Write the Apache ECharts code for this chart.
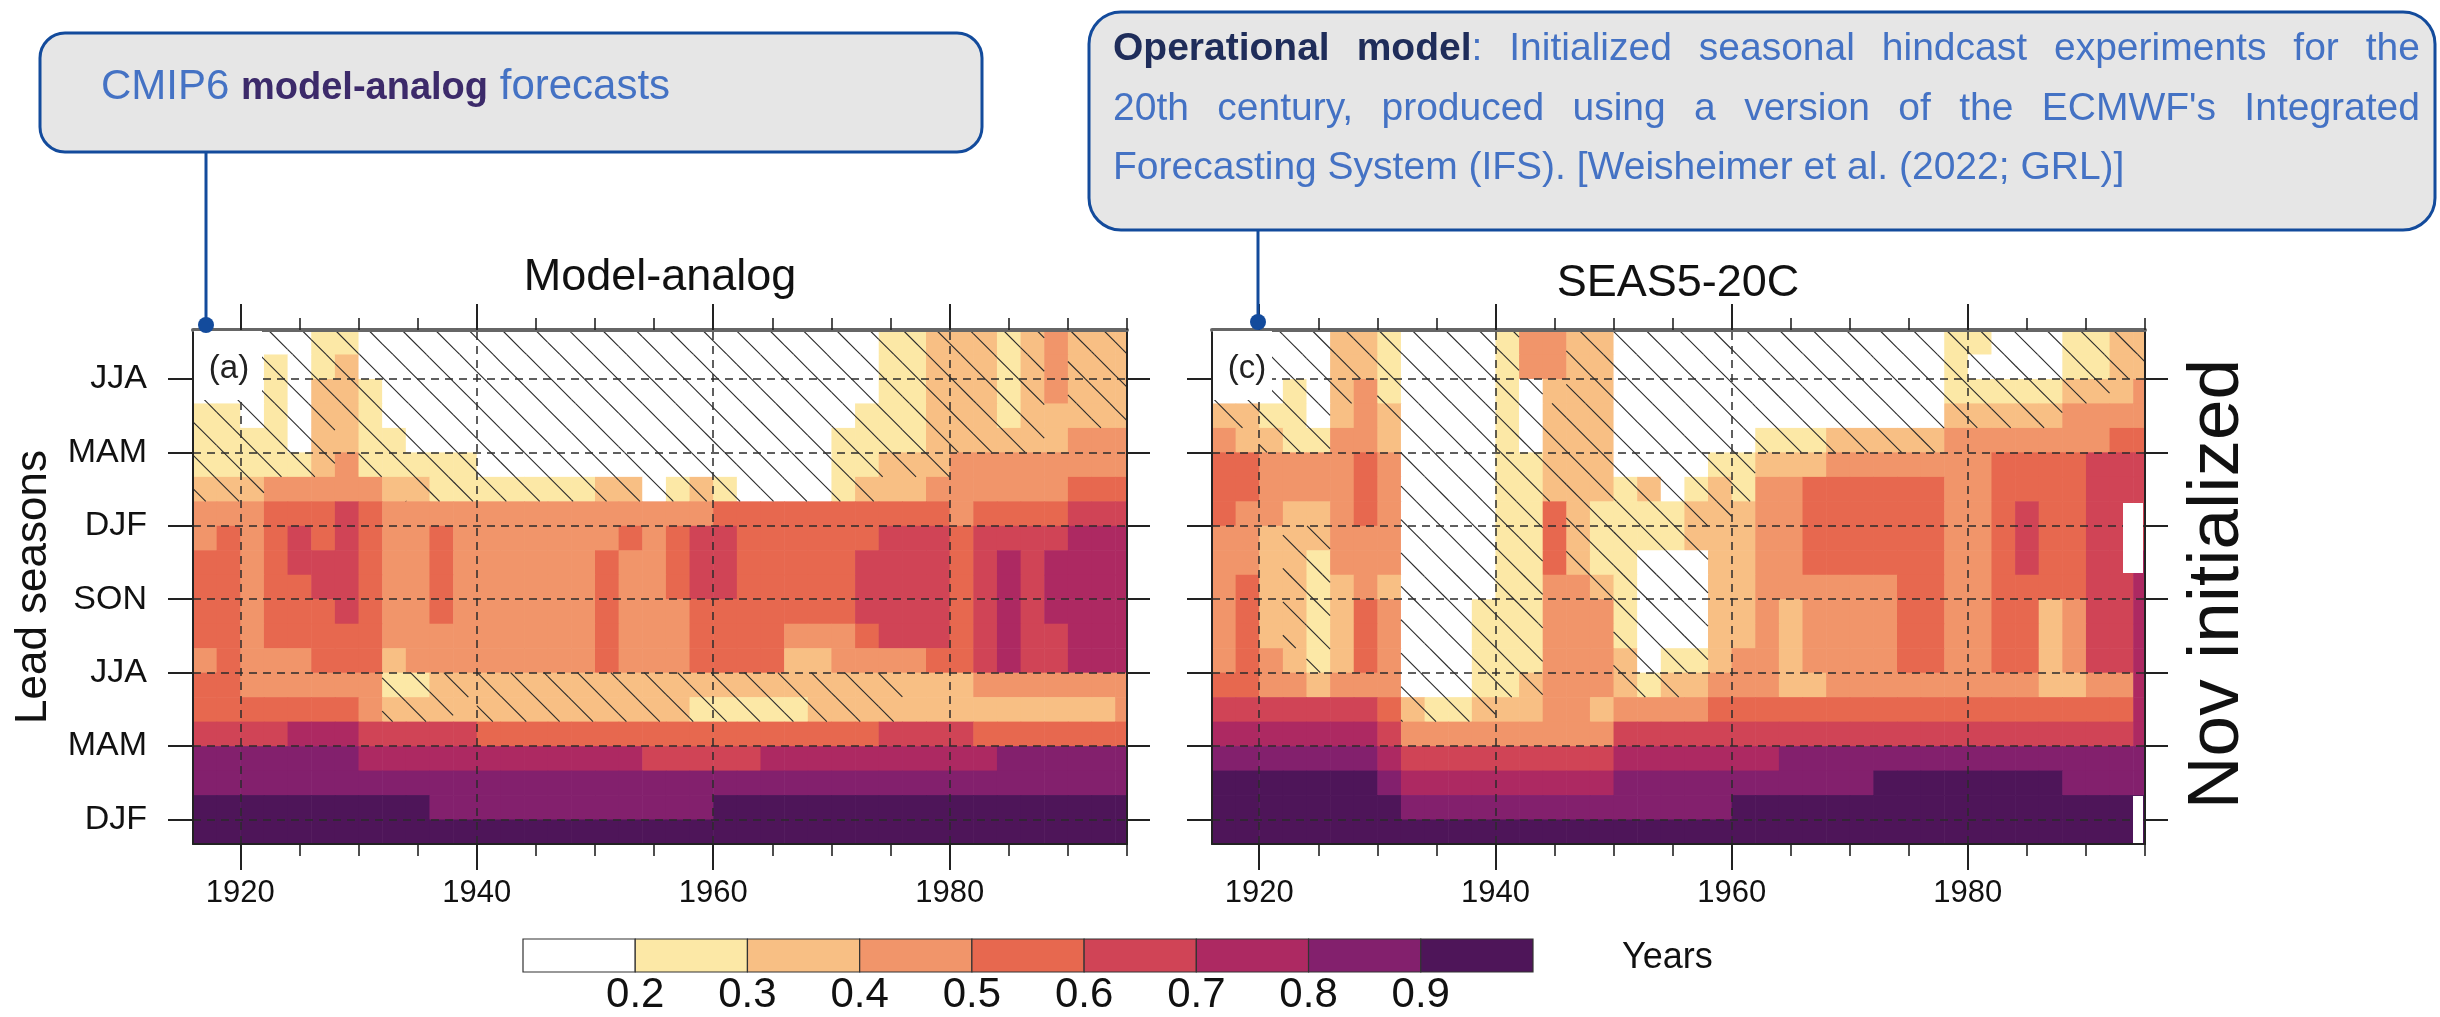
<!DOCTYPE html>
<html>
<head>
<meta charset="utf-8">
<script src="https://cdn.jsdelivr.net/npm/echarts@6/dist/echarts.min.js"></script>
<style>
html,body{margin:0;padding:0;background:#ffffff;}
#chart{width:2440px;height:1017px;}
</style>
</head>
<body>
<div id="chart"></div>
<script>
const FONT = '"Liberation Sans", Arial, Helvetica, sans-serif';

// ---------------- data ----------------
const yearStart = 1916, yearEnd = 1995, yearStep = 2;
const majorYears = [1920, 1940, 1960, 1980];
const minorYears = [1920, 1925, 1930, 1935, 1940, 1945, 1950, 1955, 1960, 1965, 1970, 1975, 1980, 1985, 1990, 1995];
const seasonMonths = [0, 3, 6, 9, 12, 15, 18];
const seasonLabels = ['DJF', 'MAM', 'JJA', 'SON', 'DJF', 'MAM', 'JJA'];
const levelBreaks = [0.2, 0.3, 0.4, 0.5, 0.6, 0.7, 0.8, 0.9];
const levelColors = ['#ffffff', '#fce8a6', '#f8bf84', '#f1956a', '#e7684f', '#d04456', '#ad2962', '#83206d', '#4e1559'];
const colorbarEnds = [0.1, 1.0];
const hatchBelow = 0.35;
const panelTitles = ['Model-analog', 'SEAS5-20C'];
const panelLetters = ['(a)', '(c)'];

// correlation skill, one row per lead month (top row first), one value per 2-year column from 1916
const analogRows = [
 [.15,.15,.15,.15,.15,.25,.25,.15,.15,.15, .15,.15,.15,.15,.15,.15,.15,.15,.15,.15, .15,.15,.15,.15,.15,.15,.15,.15,.18,.25, .25,.33,.33,.33,.28,.33,.45,.33,.33,.33],
 [.15,.15,.15,.25,.15,.25,.30,.15,.15,.15, .15,.15,.15,.15,.15,.15,.15,.15,.15,.15, .15,.15,.15,.15,.15,.15,.15,.15,.18,.25, .25,.33,.33,.33,.28,.33,.45,.33,.33,.33],
 [.15,.15,.15,.25,.15,.32,.33,.25,.18,.15, .15,.15,.15,.15,.15,.15,.15,.15,.15,.15, .15,.15,.15,.15,.15,.15,.15,.15,.18,.25, .25,.33,.33,.33,.28,.33,.45,.33,.33,.33],
 [.25,.25,.18,.25,.15,.32,.33,.25,.18,.15, .15,.15,.15,.15,.15,.15,.15,.15,.15,.15, .15,.15,.15,.15,.15,.15,.15,.15,.25,.25, .25,.33,.33,.33,.28,.33,.38,.33,.33,.33],
 [.27,.27,.27,.25,.15,.30,.38,.25,.22,.15, .15,.15,.15,.15,.15,.15,.15,.15,.15,.15, .15,.15,.15,.15,.15,.15,.15,.25,.25,.27, .27,.33,.33,.33,.33,.33,.38,.45,.45,.45],
 [.26,.26,.26,.27,.25,.32,.42,.27,.25,.21, .25,.25,.15,.15,.15,.15,.15,.15,.15,.15, .15,.15,.15,.15,.15,.15,.15,.25,.25,.30, .30,.33,.42,.45,.45,.45,.45,.48,.48,.48],
 [.33,.33,.33,.43,.47,.47,.47,.47,.36,.32, .27,.27,.27,.27,.27,.27,.27,.33,.33,.18, .22,.30,.25,.18,.18,.18,.18,.25,.33,.38, .38,.45,.45,.45,.45,.45,.45,.55,.55,.55],
 [.43,.43,.43,.55,.55,.55,.60,.55,.45,.43, .43,.42,.42,.42,.42,.42,.42,.42,.42,.45, .45,.48,.50,.50,.53,.53,.53,.53,.52,.58, .58,.55,.45,.55,.55,.55,.55,.60,.60,.60],
 [.47,.53,.45,.55,.60,.58,.63,.55,.45,.45, .50,.45,.45,.45,.45,.45,.45,.47,.52,.45, .50,.60,.62,.55,.55,.55,.55,.55,.55,.63, .63,.60,.55,.60,.65,.63,.60,.73,.73,.73],
 [.53,.55,.45,.55,.60,.62,.65,.56,.45,.45, .52,.45,.45,.45,.45,.45,.45,.55,.47,.45, .52,.63,.62,.55,.55,.55,.55,.55,.65,.65, .65,.60,.55,.62,.78,.65,.72,.76,.76,.76],
 [.53,.55,.45,.55,.56,.63,.65,.56,.45,.45, .52,.45,.45,.45,.45,.45,.45,.53,.45,.45, .50,.60,.62,.55,.55,.55,.55,.55,.65,.65, .65,.62,.57,.63,.78,.65,.70,.76,.76,.76],
 [.53,.55,.45,.52,.55,.57,.63,.56,.45,.45, .50,.45,.45,.45,.45,.45,.45,.55,.45,.45, .45,.55,.55,.55,.55,.50,.50,.55,.63,.63, .63,.63,.55,.63,.78,.65,.70,.75,.75,.75],
 [.50,.53,.45,.50,.55,.58,.58,.55,.45,.45, .45,.45,.45,.45,.45,.45,.45,.53,.45,.45, .45,.55,.55,.55,.55,.42,.42,.45,.55,.63, .63,.62,.55,.63,.78,.65,.68,.75,.75,.75],
 [.45,.52,.45,.45,.47,.52,.56,.52,.38,.41, .41,.45,.45,.45,.45,.45,.45,.52,.45,.45, .45,.55,.55,.55,.55,.38,.38,.45,.45,.47, .47,.55,.55,.62,.75,.65,.68,.75,.75,.75],
 [.52,.52,.45,.45,.45,.45,.45,.45,.27,.27, .32,.33,.33,.33,.33,.33,.33,.33,.33,.33, .33,.32,.32,.32,.32,.32,.32,.32,.32,.32, .38,.38,.38,.45,.45,.45,.45,.45,.45,.45],
 [.55,.55,.55,.55,.55,.55,.55,.45,.32,.32, .32,.37,.33,.33,.33,.33,.33,.33,.33,.33, .33,.25,.25,.25,.25,.25,.32,.32,.32,.32, .37,.37,.37,.37,.37,.37,.37,.37,.37,.45],
 [.65,.65,.65,.65,.72,.72,.72,.62,.62,.62, .62,.62,.55,.55,.55,.55,.55,.55,.55,.55, .55,.55,.55,.55,.55,.55,.55,.55,.55,.62, .62,.62,.62,.57,.57,.57,.57,.57,.57,.57],
 [.82,.82,.82,.82,.82,.82,.82,.75,.75,.75, .75,.75,.75,.75,.75,.75,.75,.75,.75,.68, .68,.68,.68,.68,.75,.75,.75,.75,.75,.75, .75,.75,.75,.75,.82,.82,.82,.82,.82,.82],
 [.85,.85,.85,.85,.85,.85,.85,.85,.85,.85, .85,.85,.85,.85,.85,.85,.85,.85,.85,.85, .85,.85,.85,.85,.85,.85,.85,.85,.85,.85, .85,.85,.85,.85,.85,.85,.85,.85,.85,.85],
 [.95,.95,.95,.95,.95,.95,.95,.95,.95,.95, .88,.88,.88,.88,.88,.88,.88,.88,.88,.88, .88,.88,.95,.95,.95,.95,.95,.95,.95,.95, .95,.95,.95,.95,.95,.95,.95,.95,.95,.95],
 [.95,.95,.95,.95,.95,.95,.95,.95,.95,.95, .95,.95,.95,.95,.95,.95,.95,.95,.95,.95, .95,.95,.95,.95,.95,.95,.95,.95,.95,.95, .95,.95,.95,.95,.95,.95,.95,.95,.95,.95]
];

const seas5Rows = [
 [.15,.15,.15,.15,.15,.32,.33,.22,.15,.15, .15,.15,.25,.40,.42,.33,.33,.15,.15,.15, .15,.15,.15,.15,.15,.15,.15,.15,.15,.15, .15,.25,.25,.15,.15,.15,.25,.25,.33,.33],
 [.15,.15,.15,.18,.15,.33,.33,.25,.15,.15, .15,.15,.25,.42,.45,.33,.33,.15,.15,.15, .15,.15,.15,.15,.15,.15,.15,.15,.15,.15, .15,.22,.18,.15,.15,.15,.25,.25,.33,.33],
 [.15,.15,.15,.25,.15,.33,.42,.28,.18,.15, .15,.15,.22,.18,.38,.33,.33,.15,.15,.15, .15,.15,.15,.15,.15,.15,.15,.15,.15,.15, .15,.25,.25,.25,.25,.25,.33,.33,.37,.42],
 [.33,.33,.28,.25,.15,.38,.45,.33,.18,.15, .15,.15,.20,.15,.33,.33,.33,.15,.15,.15, .15,.15,.15,.15,.15,.15,.18,.18,.18,.18, .18,.33,.33,.33,.33,.33,.40,.40,.45,.47],
 [.42,.38,.33,.28,.22,.42,.47,.37,.18,.15, .15,.15,.22,.18,.33,.33,.33,.18,.15,.15, .15,.18,.18,.25,.25,.25,.30,.30,.30,.30, .30,.42,.45,.45,.45,.45,.47,.47,.55,.55],
 [.55,.52,.45,.43,.40,.45,.55,.40,.18,.15, .15,.15,.25,.25,.33,.33,.33,.18,.15,.15, .18,.25,.25,.38,.38,.38,.45,.45,.45,.45, .45,.45,.45,.55,.55,.55,.55,.63,.65,.65],
 [.55,.53,.47,.45,.42,.47,.58,.45,.18,.15, .15,.15,.25,.25,.33,.33,.33,.22,.30,.18, .25,.30,.27,.45,.45,.52,.55,.55,.55,.55, .55,.47,.45,.55,.55,.55,.55,.65,.65,.65],
 [.50,.47,.42,.36,.38,.47,.55,.45,.18,.15, .15,.15,.25,.25,.50,.33,.25,.25,.25,.22, .33,.30,.38,.45,.45,.52,.55,.55,.55,.55, .55,.47,.45,.55,.63,.55,.55,.65,.65,.65],
 [.45,.45,.37,.33,.33,.45,.47,.43,.18,.15, .15,.15,.25,.27,.55,.30,.25,.25,.20,.20, .30,.37,.38,.45,.45,.52,.55,.55,.55,.55, .55,.47,.45,.55,.63,.55,.55,.65,.65,.65],
 [.45,.40,.36,.33,.27,.43,.45,.40,.15,.15, .15,.15,.22,.27,.52,.30,.25,.28,.15,.15, .17,.37,.38,.45,.45,.52,.55,.55,.55,.55, .55,.47,.45,.55,.63,.55,.55,.65,.65,.75],
 [.45,.55,.38,.33,.25,.37,.48,.37,.15,.15, .15,.18,.22,.27,.45,.42,.33,.28,.15,.15, .17,.37,.38,.45,.42,.45,.45,.45,.45,.55, .55,.47,.45,.55,.55,.55,.55,.65,.65,.75],
 [.45,.56,.38,.33,.25,.37,.55,.45,.15,.15, .15,.25,.22,.27,.45,.45,.40,.28,.15,.15, .17,.37,.38,.45,.38,.40,.45,.45,.45,.55, .55,.47,.45,.55,.55,.38,.45,.65,.65,.75],
 [.45,.55,.38,.33,.25,.37,.55,.45,.15,.15, .15,.25,.22,.27,.45,.45,.40,.28,.15,.15, .17,.37,.38,.45,.38,.40,.45,.45,.45,.55, .55,.47,.45,.55,.55,.38,.45,.65,.65,.75],
 [.45,.52,.40,.35,.28,.37,.55,.45,.15,.15, .15,.25,.25,.27,.45,.45,.40,.30,.18,.20, .25,.37,.40,.45,.38,.40,.45,.45,.45,.55, .55,.47,.45,.55,.55,.38,.45,.60,.65,.75],
 [.50,.50,.47,.45,.38,.45,.47,.45,.15,.18, .18,.27,.27,.33,.45,.45,.40,.33,.27,.30, .37,.45,.45,.45,.38,.38,.45,.45,.45,.45, .45,.45,.45,.45,.45,.38,.38,.45,.45,.72],
 [.63,.63,.63,.63,.63,.63,.63,.50,.30,.27, .27,.33,.37,.37,.42,.40,.38,.45,.45,.45, .45,.55,.55,.55,.52,.52,.52,.52,.52,.52, .52,.52,.52,.52,.52,.52,.52,.52,.52,.72],
 [.75,.75,.75,.75,.75,.75,.75,.62,.45,.45, .45,.45,.47,.47,.47,.47,.47,.60,.60,.60, .60,.65,.65,.65,.65,.65,.65,.65,.65,.65, .65,.65,.65,.65,.65,.65,.65,.65,.65,.72],
 [.85,.85,.85,.88,.85,.85,.85,.75,.62,.62, .62,.62,.62,.62,.62,.62,.62,.73,.73,.73, .73,.75,.75,.75,.80,.80,.80,.80,.82,.82, .82,.82,.82,.82,.82,.82,.80,.80,.80,.80],
 [.92,.92,.92,.92,.92,.92,.92,.88,.75,.75, .75,.75,.75,.75,.75,.75,.75,.83,.83,.83, .83,.85,.85,.85,.85,.85,.85,.85,.90,.90, .90,.90,.90,.90,.90,.90,.87,.87,.87,.87],
 [.95,.95,.95,.95,.95,.95,.95,.95,.87,.87, .87,.87,.87,.87,.87,.87,.87,.87,.87,.87, .87,.87,.95,.95,.95,.95,.95,.95,.95,.95, .95,.95,.95,.95,.95,.95,.95,.95,.95,.95],
 [.95,.95,.95,.95,.95,.95,.95,.95,.95,.95, .95,.95,.95,.95,.95,.95,.95,.95,.95,.95, .95,.95,.95,.95,.95,.95,.95,.95,.95,.95, .95,.95,.95,.95,.95,.95,.95,.95,.95,.95]
];

// callout texts
const note1Parts = [['CMIP6', 'n'], ['model-analog', 'b'], ['forecasts', 'n']];
const note2Lines = [
  '**Operational model**: Initialized seasonal hindcast experiments for the',
  "20th century, produced using a version of the ECMWF's Integrated",
  'Forecasting System (IFS). [Weisheimer et al. (2022; GRL)]'
];

// ---------------- build ----------------
function buildCells(rows) {
  const out = [];
  rows.forEach((row, i) => {
    const r = rows.length - 1 - i;
    row.forEach((v, c) => {
      const x0 = yearStart + c * yearStep;
      const x1 = Math.min(x0 + yearStep, yearEnd);
      out.push([x0, x1, r - 1, r, v]);
    });
  });
  return out;
}
const cbBounds = [colorbarEnds[0]].concat(levelBreaks, [colorbarEnds[1]]);
const colorbarData = levelColors.map((c, k) => [cbBounds[k], cbBounds[k + 1], 0, 1, (cbBounds[k] + cbBounds[k + 1]) / 2]);

const pieces = levelColors.map((color, k) => {
  const p = { color: color };
  if (k > 0) p.gte = levelBreaks[k - 1];
  if (k < levelBreaks.length) p.lt = levelBreaks[k];
  return p;
});

function renderCell(params, api) {
  const a = api.coord([api.value(0), api.value(3)]);
  const b = api.coord([api.value(1), api.value(2)]);
  return { type: 'rect', shape: { x: a[0], y: a[1], width: b[0] - a[0] + 0.6, height: b[1] - a[1] + 0.6 },
           style: { fill: api.visual('color') } };
}
const HATCH_GAP = 33.4;
function makeHatch(phase) {
  return function (params, api) {
    if (api.value(4) >= hatchBelow) return { type: 'group', children: [] };
    const a = api.coord([api.value(0), api.value(3)]);
    const b = api.coord([api.value(1), api.value(2)]);
    const x0 = a[0], y0 = a[1], x1 = b[0], y1 = b[1];
    const children = [];
    const cMin = x0 - y1, cMax = x1 - y0;
    const k0 = Math.ceil((cMin - phase) / HATCH_GAP);
    for (let c = phase + k0 * HATCH_GAP; c <= cMax; c += HATCH_GAP) {
      const ya = Math.max(y0, x0 - c), yb = Math.min(y1, x1 - c);
      if (yb - ya > 0.05) {
        children.push({ type: 'line', shape: { x1: c + ya, y1: ya, x2: c + yb, y2: yb },
                        style: { stroke: '#2a2a2a', lineWidth: 1.1 } });
      }
    }
    return { type: 'group', children: children };
  };
}
function renderBox(params, api) {
  const a = api.coord([api.value(0), api.value(3)]);
  const b = api.coord([api.value(1), api.value(2)]);
  return { type: 'rect', shape: { x: a[0], y: a[1], width: b[0] - a[0], height: b[1] - a[1] },
           style: { fill: api.visual('color'), stroke: '#333', lineWidth: 1.2 } };
}

const grids = [
  { left: 193, top: 330, width: 934, height: 514 },
  { left: 1212, top: 330, width: 933, height: 514 },
  { left: 523, top: 939, width: 1010, height: 33 }
];

const AX = '#222';
function xAxesFor(g) {
  const base = { type: 'value', gridIndex: g, min: yearStart, max: yearEnd, splitLine: { show: false }, z: 10 };
  return [
    Object.assign({}, base, { position: 'bottom',
      axisLine: { onZero: false, lineStyle: { color: AX, width: 2 } },
      axisTick: { customValues: majorYears, length: 26, lineStyle: { color: AX, width: 2 } },
      axisLabel: { customValues: majorYears, margin: 34, fontSize: 31, color: '#111', fontFamily: FONT, formatter: v => String(v) } }),
    Object.assign({}, base, { position: 'bottom',
      axisLine: { show: false, onZero: false },
      axisTick: { customValues: minorYears, length: 12, lineStyle: { color: AX, width: 1.6 } },
      axisLabel: { show: false } }),
    Object.assign({}, base, { position: 'top',
      axisLine: { onZero: false, lineStyle: { color: '#666', width: 4 } },
      axisTick: { customValues: majorYears, length: 26, lineStyle: { color: AX, width: 2 } },
      axisLabel: { show: false } }),
    Object.assign({}, base, { position: 'top',
      axisLine: { show: false, onZero: false },
      axisTick: { customValues: minorYears, length: 12, lineStyle: { color: AX, width: 1.6 } },
      axisLabel: { show: false } })
  ];
}
function yAxesFor(g, labels) {
  const base = { type: 'value', gridIndex: g, min: -1, max: 20, splitLine: { show: false }, z: 10 };
  return [
    Object.assign({}, base, { position: 'left',
      axisLine: { onZero: false, lineStyle: { color: AX, width: 2 } },
      axisTick: { customValues: seasonMonths, length: 25, lineStyle: { color: AX, width: 2 } },
      axisLabel: { show: labels, customValues: seasonMonths, margin: 46, fontSize: 34, color: '#111', fontFamily: FONT,
                   formatter: v => seasonLabels[Math.round(v / 3)] } }),
    Object.assign({}, base, { position: 'right',
      axisLine: { onZero: false, lineStyle: { color: AX, width: 2 } },
      axisTick: { customValues: seasonMonths, length: 23, lineStyle: { color: AX, width: 2 } },
      axisLabel: { show: false } })
  ];
}

const xAxis = xAxesFor(0).concat(xAxesFor(1), [{
  type: 'value', gridIndex: 2, min: colorbarEnds[0], max: colorbarEnds[1], position: 'bottom',
  axisLine: { show: false, onZero: false }, axisTick: { show: false }, splitLine: { show: false },
  axisLabel: { customValues: levelBreaks, margin: 2, fontSize: 42, color: '#111', fontFamily: FONT, formatter: v => v.toFixed(1) }
}]);
const yAxis = yAxesFor(0, true).concat(yAxesFor(1, false), [{
  type: 'value', gridIndex: 2, min: 0, max: 1, show: false
}]);

function gridLineSeries(xi, yi) {
  return {
    type: 'line', xAxisIndex: xi, yAxisIndex: yi, data: [], z: 6, silent: true,
    markLine: {
      silent: true, symbol: ['none', 'none'], animation: false, label: { show: false },
      lineStyle: { type: [8, 6], color: '#2b2b2b', width: 1.5 },
      emphasis: { disabled: true },
      data: seasonMonths.map(m => ({ yAxis: m })).concat(majorYears.map(y => ({ xAxis: y })))
    }
  };
}

const series = [
  { type: 'custom', name: panelTitles[0], xAxisIndex: 0, yAxisIndex: 0, renderItem: renderCell, data: buildCells(analogRows),
    encode: { x: [0, 1], y: [2, 3] }, z: 2, silent: true },
  { type: 'custom', name: panelTitles[1], xAxisIndex: 4, yAxisIndex: 2, renderItem: renderCell, data: buildCells(seas5Rows),
    encode: { x: [0, 1], y: [2, 3] }, z: 2, silent: true },
  { type: 'custom', name: 'colorbar', xAxisIndex: 8, yAxisIndex: 4, renderItem: renderBox, data: colorbarData,
    encode: { x: [0, 1], y: [2, 3] }, z: 2, silent: true },
  { type: 'custom', name: 'hatchA', xAxisIndex: 0, yAxisIndex: 0, renderItem: makeHatch(5), data: buildCells(analogRows),
    encode: { x: [0, 1], y: [2, 3] }, z: 3, silent: true },
  { type: 'custom', name: 'hatchC', xAxisIndex: 4, yAxisIndex: 2, renderItem: makeHatch(13), data: buildCells(seas5Rows),
    encode: { x: [0, 1], y: [2, 3] }, z: 3, silent: true },
  gridLineSeries(0, 0),
  gridLineSeries(4, 2)
];

// ---------------- text / callouts ----------------
const mctx = document.createElement('canvas').getContext('2d');
function fontStr(size, bold) { return (bold ? 'bold ' : '') + size + 'px ' + FONT; }
function measure(t, size, bold) { mctx.font = fontStr(size, bold); return mctx.measureText(t).width; }
function textEl(t, x, y, size, opt) {
  opt = opt || {};
  return {
    type: 'text', z: 100, x: x, y: y, rotation: opt.rotation || 0,
    style: { text: t, x: 0, y: 0, font: fontStr(size, opt.bold), fill: opt.color || '#111',
             align: opt.align || 'center', textAlign: opt.align || 'center',
             verticalAlign: 'middle', textVerticalAlign: 'middle' }
  };
}
const BLUE = '#4472c4', LINE = '#134b9c';
const graphics = [];

// callout 1
graphics.push({ type: 'rect', z: 100, shape: { x: 40, y: 33, width: 942, height: 119, r: 25 },
                style: { fill: '#e6e6e6', stroke: LINE, lineWidth: 3 } });
(function () {
  let x = 101; const base = 102;
  note1Parts.forEach((p, i) => {
    const bold = p[1] === 'b', size = bold ? 38 : 42;
    graphics.push(textEl(p[0], x, base - 0.35 * size, size, { bold: bold, align: 'left', color: bold ? '#3c2a6a' : BLUE }));
    x += measure(p[0], size, bold) + measure(' ', 42, false);
  });
})();
graphics.push({ type: 'line', z: 100, shape: { x1: 206, y1: 152, x2: 206, y2: 325 }, style: { stroke: LINE, lineWidth: 3 } });
graphics.push({ type: 'circle', z: 101, shape: { cx: 206, cy: 325, r: 8 }, style: { fill: LINE } });

// callout 2
graphics.push({ type: 'rect', z: 100, shape: { x: 1089, y: 12, width: 1346, height: 218, r: 32 },
                style: { fill: '#e6e6e6', stroke: LINE, lineWidth: 3 } });
(function () {
  const size = 39, left = 1113, right = 2420, baselines = [63, 123, 182];
  note2Lines.forEach((line, li) => {
    let bold = false;
    const words = line.split(' ').map(w => {
      const parts = [];
      w.split('**').forEach((seg, i) => { if (i > 0) bold = !bold; if (seg) parts.push({ t: seg, bold: bold }); });
      return parts;
    });
    const widths = words.map(ps => ps.reduce((s, p) => s + measure(p.t, size, p.bold), 0));
    const total = widths.reduce((s, w) => s + w, 0);
    const justify = li < note2Lines.length - 1;
    const gap = justify ? (right - left - total) / (words.length - 1) : measure(' ', size, false);
    let x = left;
    words.forEach((ps, wi) => {
      let px = x;
      ps.forEach(p => {
        graphics.push(textEl(p.t, px, baselines[li] - 0.35 * size, size,
          { bold: p.bold, align: 'left', color: p.bold ? '#1f2d5a' : BLUE }));
        px += measure(p.t, size, p.bold);
      });
      x += widths[wi] + gap;
    });
  });
})();
graphics.push({ type: 'line', z: 100, shape: { x1: 1258, y1: 230, x2: 1258, y2: 322 }, style: { stroke: LINE, lineWidth: 3 } });
graphics.push({ type: 'circle', z: 101, shape: { cx: 1258, cy: 322, r: 8 }, style: { fill: LINE } });

// panel titles
graphics.push(textEl(panelTitles[0], 660, 278, 45));
graphics.push(textEl(panelTitles[1], 1678, 284, 45));
// panel letters with white boxes
graphics.push({ type: 'rect', z: 99, shape: { x: 194, y: 331, width: 68, height: 69 }, style: { fill: '#ffffff' } });
graphics.push(textEl(panelLetters[0], 229, 369, 33, { color: '#222' }));
graphics.push({ type: 'rect', z: 99, shape: { x: 1213, y: 331, width: 59, height: 69 }, style: { fill: '#ffffff' } });
graphics.push(textEl(panelLetters[1], 1247, 369, 33, { color: '#222' }));
// white patches at right edge of right panel (as in the source figure)
graphics.push({ type: 'rect', z: 99, shape: { x: 2123, y: 503, width: 20, height: 70 }, style: { fill: '#ffffff' } });
graphics.push({ type: 'rect', z: 99, shape: { x: 2133, y: 796, width: 10, height: 47 }, style: { fill: '#ffffff' } });
// axis names
graphics.push(textEl('Lead seasons', 34, 587, 44, { rotation: Math.PI / 2 }));
graphics.push(textEl('Nov initialized', 2218, 584, 73, { rotation: Math.PI / 2 }));
graphics.push(textEl('Years', 1622, 958, 36, { align: 'left' }));

const chart = echarts.init(document.getElementById('chart'), null, { renderer: 'canvas' });
chart.setOption({
  backgroundColor: '#ffffff',
  animation: false,
  grid: grids,
  xAxis: xAxis,
  yAxis: yAxis,
  visualMap: { type: 'piecewise', show: false, dimension: 4, seriesIndex: [0, 1, 2], pieces: pieces },
  series: series,
  graphic: { elements: graphics }
});
</script>
</body>
</html>
